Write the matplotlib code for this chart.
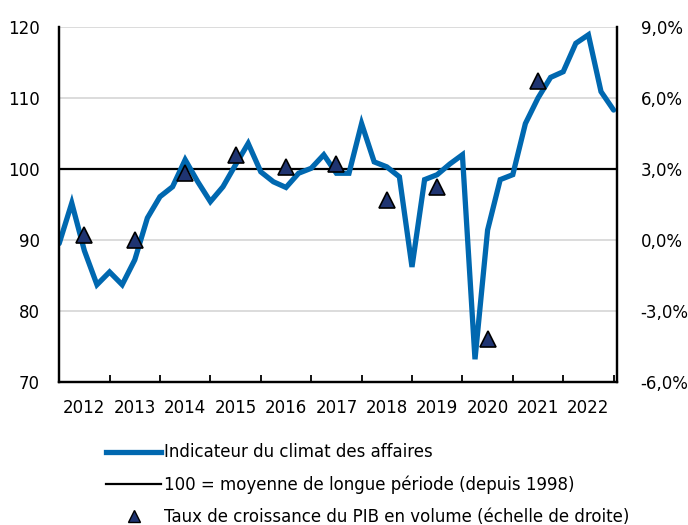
import numpy as np
import matplotlib.pyplot as plt
from matplotlib.lines import Line2D

# Indicateur du climat des affaires, quarterly points from 2012 Q1
climat = [89.5, 95.2, 88.5, 83.7, 85.5, 83.7, 87.2, 93.1, 96.1, 97.5,
          101.3, 98.2, 95.4, 97.5, 100.6, 103.6, 99.6, 98.2, 97.4, 99.4,
          100.1, 102.0, 99.4, 99.4, 106.4, 101.0, 100.3, 98.9, 86.2, 98.5,
          99.2, 100.7, 102.0, 73.2, 91.4, 98.5, 99.2, 106.4, 110.0, 112.9,
          113.7, 117.7, 118.9, 110.9, 108.3]
years = list(range(2012, 2023))
# annual GDP growth (%), right axis
pib = [0.2, 0.0, 2.85, 3.6, 3.1, 3.2, 1.7, 2.25, -4.2, 6.7]
reference = 100

blue = '#0068B0'
navy = '#1F3471'

plt.rcParams['font.family'] = ['DejaVu Sans']
fig = plt.figure(figsize=(6.88, 5.25), dpi=100)
ax1 = fig.add_axes([0.086, 0.2724, 0.811, 0.6762])
ax2 = ax1.twinx()

x_line = 2012 + 0.25 * np.arange(len(climat))
x_pib = np.array(years[:len(pib)]) + 0.5

for v in [80, 90, 110, 120]:
    ax1.axhline(v, color='#d9d9d9', lw=1.3, zorder=0)
ax1.plot(x_line, climat, color=blue, lw=3.8, solid_capstyle='round',
         solid_joinstyle='miter', zorder=3)
ax1.axhline(reference, color='black', lw=1.6, zorder=2)
ax2.plot(x_pib, pib, linestyle='none', marker='^', markersize=11,
         markerfacecolor=navy, markeredgecolor='black', markeredgewidth=1.2, zorder=4)

ax1.set_xlim(2012, 2023.07)
ax1.set_ylim(70, 120)
ax2.set_ylim(-6, 9)
ax1.set_zorder(ax2.get_zorder() - 1)
ax1.patch.set_visible(True)
ax2.patch.set_visible(False)

ax1.set_yticks([70, 80, 90, 100, 110, 120])
ax1.tick_params(axis='y', length=0, labelsize=12, pad=14)
ax2.set_yticks([-6, -3, 0, 3, 6, 9])
ax2.set_yticklabels([f"{v:.1f}%".replace('.', ',') for v in [-6, -3, 0, 3, 6, 9]])
ax2.tick_params(axis='y', length=0, labelsize=12, pad=17)

ax1.set_xticks(np.arange(2012, 2024))
ax1.set_xticklabels([])
ax1.set_xticks(np.array(years) + 0.5, minor=True)
ax1.set_xticklabels([str(y) for y in years], minor=True)
ax1.tick_params(axis='x', which='major', direction='in', length=5, width=1.3)
ax1.tick_params(axis='x', which='minor', length=0, labelsize=12, pad=12)

for a in (ax1, ax2):
    a.spines['top'].set_visible(False)
    for s in ('left', 'right', 'bottom'):
        a.spines[s].set_linewidth(1.6)

handles = [
    Line2D([], [], color=blue, lw=3.8),
    Line2D([], [], color='black', lw=1.6),
    Line2D([], [], linestyle='none', marker='^', markersize=9,
           markerfacecolor=navy, markeredgecolor='black'),
]
labels = ['Indicateur du climat des affaires',
          '100 = moyenne de longue période (depuis 1998)',
          'Taux de croissance du PIB en volume (échelle de droite)']
fig.legend(handles, labels, loc='upper left', bbox_to_anchor=(0.145, 0.168),
           frameon=False, fontsize=12, handlelength=3.3, handletextpad=0.15,
           labelspacing=0.85, borderaxespad=0)

fig.savefig('out.png', dpi=100)
